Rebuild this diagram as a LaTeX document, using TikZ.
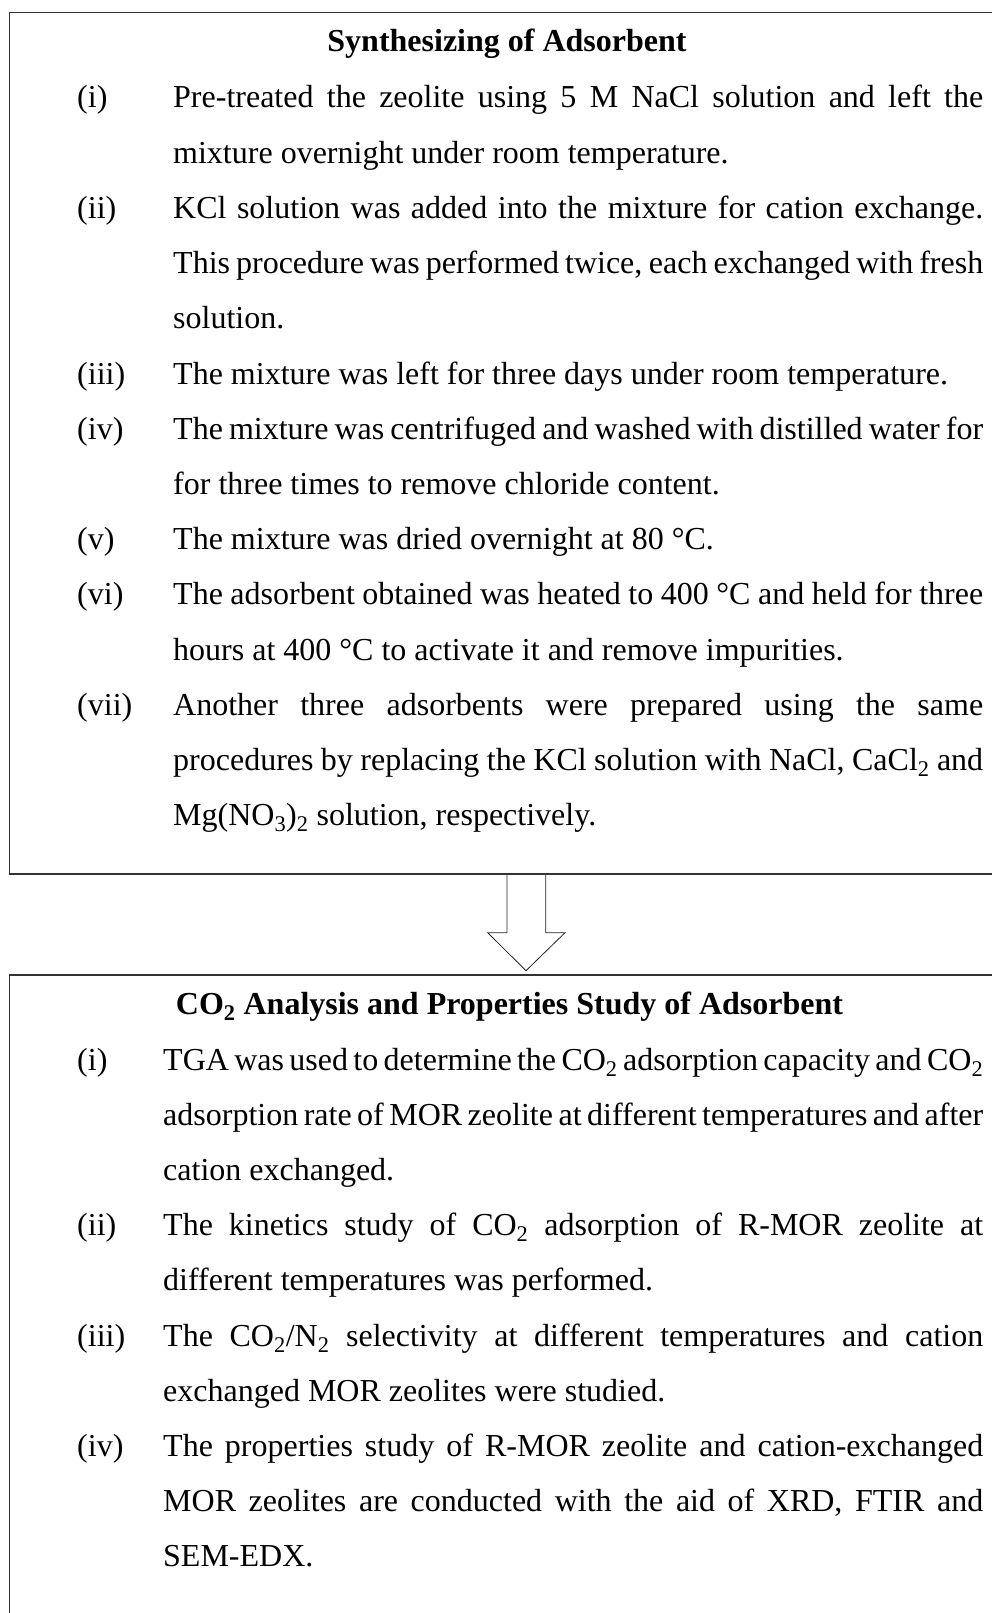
\documentclass[tikz,border=0pt]{standalone}
\usepackage{fontspec}
\setmainfont{Liberation Serif}
\usetikzlibrary{calc}
\tolerance=9999
\hyphenpenalty=10000
\exhyphenpenalty=10000

\begin{document}
\begin{tikzpicture}[
          x=1pt, y=-1pt,
          every node/.style={font=\fontsize{32}{55.2}\selectfont, inner sep=0pt},
          box/.style={draw=black!80, line width=1.5pt},
          ttl/.style={anchor=base, font=\fontsize{32}{55.2}\selectfont\bfseries},
          lbl/.style={anchor=base west},
          item/.style={anchor=base west, align=justify, text width=810pt},
          itemb/.style={item, text width=820pt},
          blockarr/.style={draw=black!85, line width=0.8pt, line join=miter},
        ]
          \useasboundingbox (0,0) rectangle (992,1613);
          \clip (0,0) rectangle (992,1613);

          % upper box
          \draw[box] (9.5,12.7) rectangle (1010,874);
          \node[ttl] (synth) at (507,52) {Synthesizing of Adsorbent};
          \node[lbl] (s1) at (77,108)   {(i)};
          \node[lbl] (s2) at (77,218.4) {(ii)};
          \node[lbl] (s3) at (77,384)   {(iii)};
          \node[lbl] (s4) at (77,439.2) {(iv)};
          \node[lbl] (s5) at (77,549.6) {(v)};
          \node[lbl] (s6) at (77,604.8) {(vi)};
          \node[lbl] (s7) at (77,715.2) {(vii)};
          \node[item] (t1) at (173,108) {Pre-treated the zeolite using 5 M NaCl solution and left the\linebreak
            mixture overnight under room temperature.};
          \node[item] (t2) at (173,218.4) {KCl solution was added into the mixture for cation exchange.\linebreak
            This procedure was performed twice, each exchanged with fresh\linebreak solution.};
          \node[item] (t3) at (173,384) {The mixture was left for three days under room temperature.};
          \node[item] (t4) at (173,439.2) {The mixture was centrifuged and washed with distilled water for\linebreak
            for three times to remove chloride content.};
          \node[item] (t5) at (173,549.6) {The mixture was dried overnight at 80~°C.};
          \node[item] (t6) at (173,604.8) {The adsorbent obtained was heated to 400~°C and held for three\linebreak
            hours at 400~°C to activate it and remove impurities.};
          \node[item] (t7) at (173,715.2) {Another three adsorbents were prepared using the same\linebreak
            procedures by replacing the KCl solution with NaCl, CaCl\textsubscript{2} and\linebreak
            Mg(NO\textsubscript{3})\textsubscript{2} solution, respectively.};

          % hollow arrow
          \draw[blockarr] (507,875) -- (507,932.7) -- (487.7,932.7) -- (526,970.7)
            -- (565,932.7) -- (545.7,932.7) -- (545.7,875);

          % lower box
          \draw[box] (9.5,975) rectangle (1010,1640);
          \node[ttl] (study) at (509.5,1014.5) {CO\textsubscript{2} Analysis and Properties Study of Adsorbent};
          \node[lbl] (a1) at (77,1070)   {(i)};
          \node[lbl] (a2) at (77,1235.6) {(ii)};
          \node[lbl] (a3) at (77,1346)   {(iii)};
          \node[lbl] (a4) at (77,1456.4) {(iv)};
          \node[itemb] (b1) at (163,1070) {TGA was used to determine the CO\textsubscript{2} adsorption capacity and CO\textsubscript{2}\linebreak
            adsorption rate of MOR zeolite at different temperatures and after\linebreak cation exchanged.};
          \node[itemb] (b2) at (163,1235.6) {The kinetics study of CO\textsubscript{2} adsorption of R-MOR zeolite at\linebreak
            different temperatures was performed.};
          \node[itemb] (b3) at (163,1346) {The CO\textsubscript{2}/N\textsubscript{2} selectivity at different temperatures and cation\linebreak
            exchanged MOR zeolites were studied.};
          \node[itemb] (b4) at (163,1456.4) {The properties study of R-MOR zeolite and cation-exchanged\linebreak
            MOR zeolites are conducted with the aid of XRD, FTIR and\linebreak SEM-EDX.};
        \end{tikzpicture}
\end{document}
